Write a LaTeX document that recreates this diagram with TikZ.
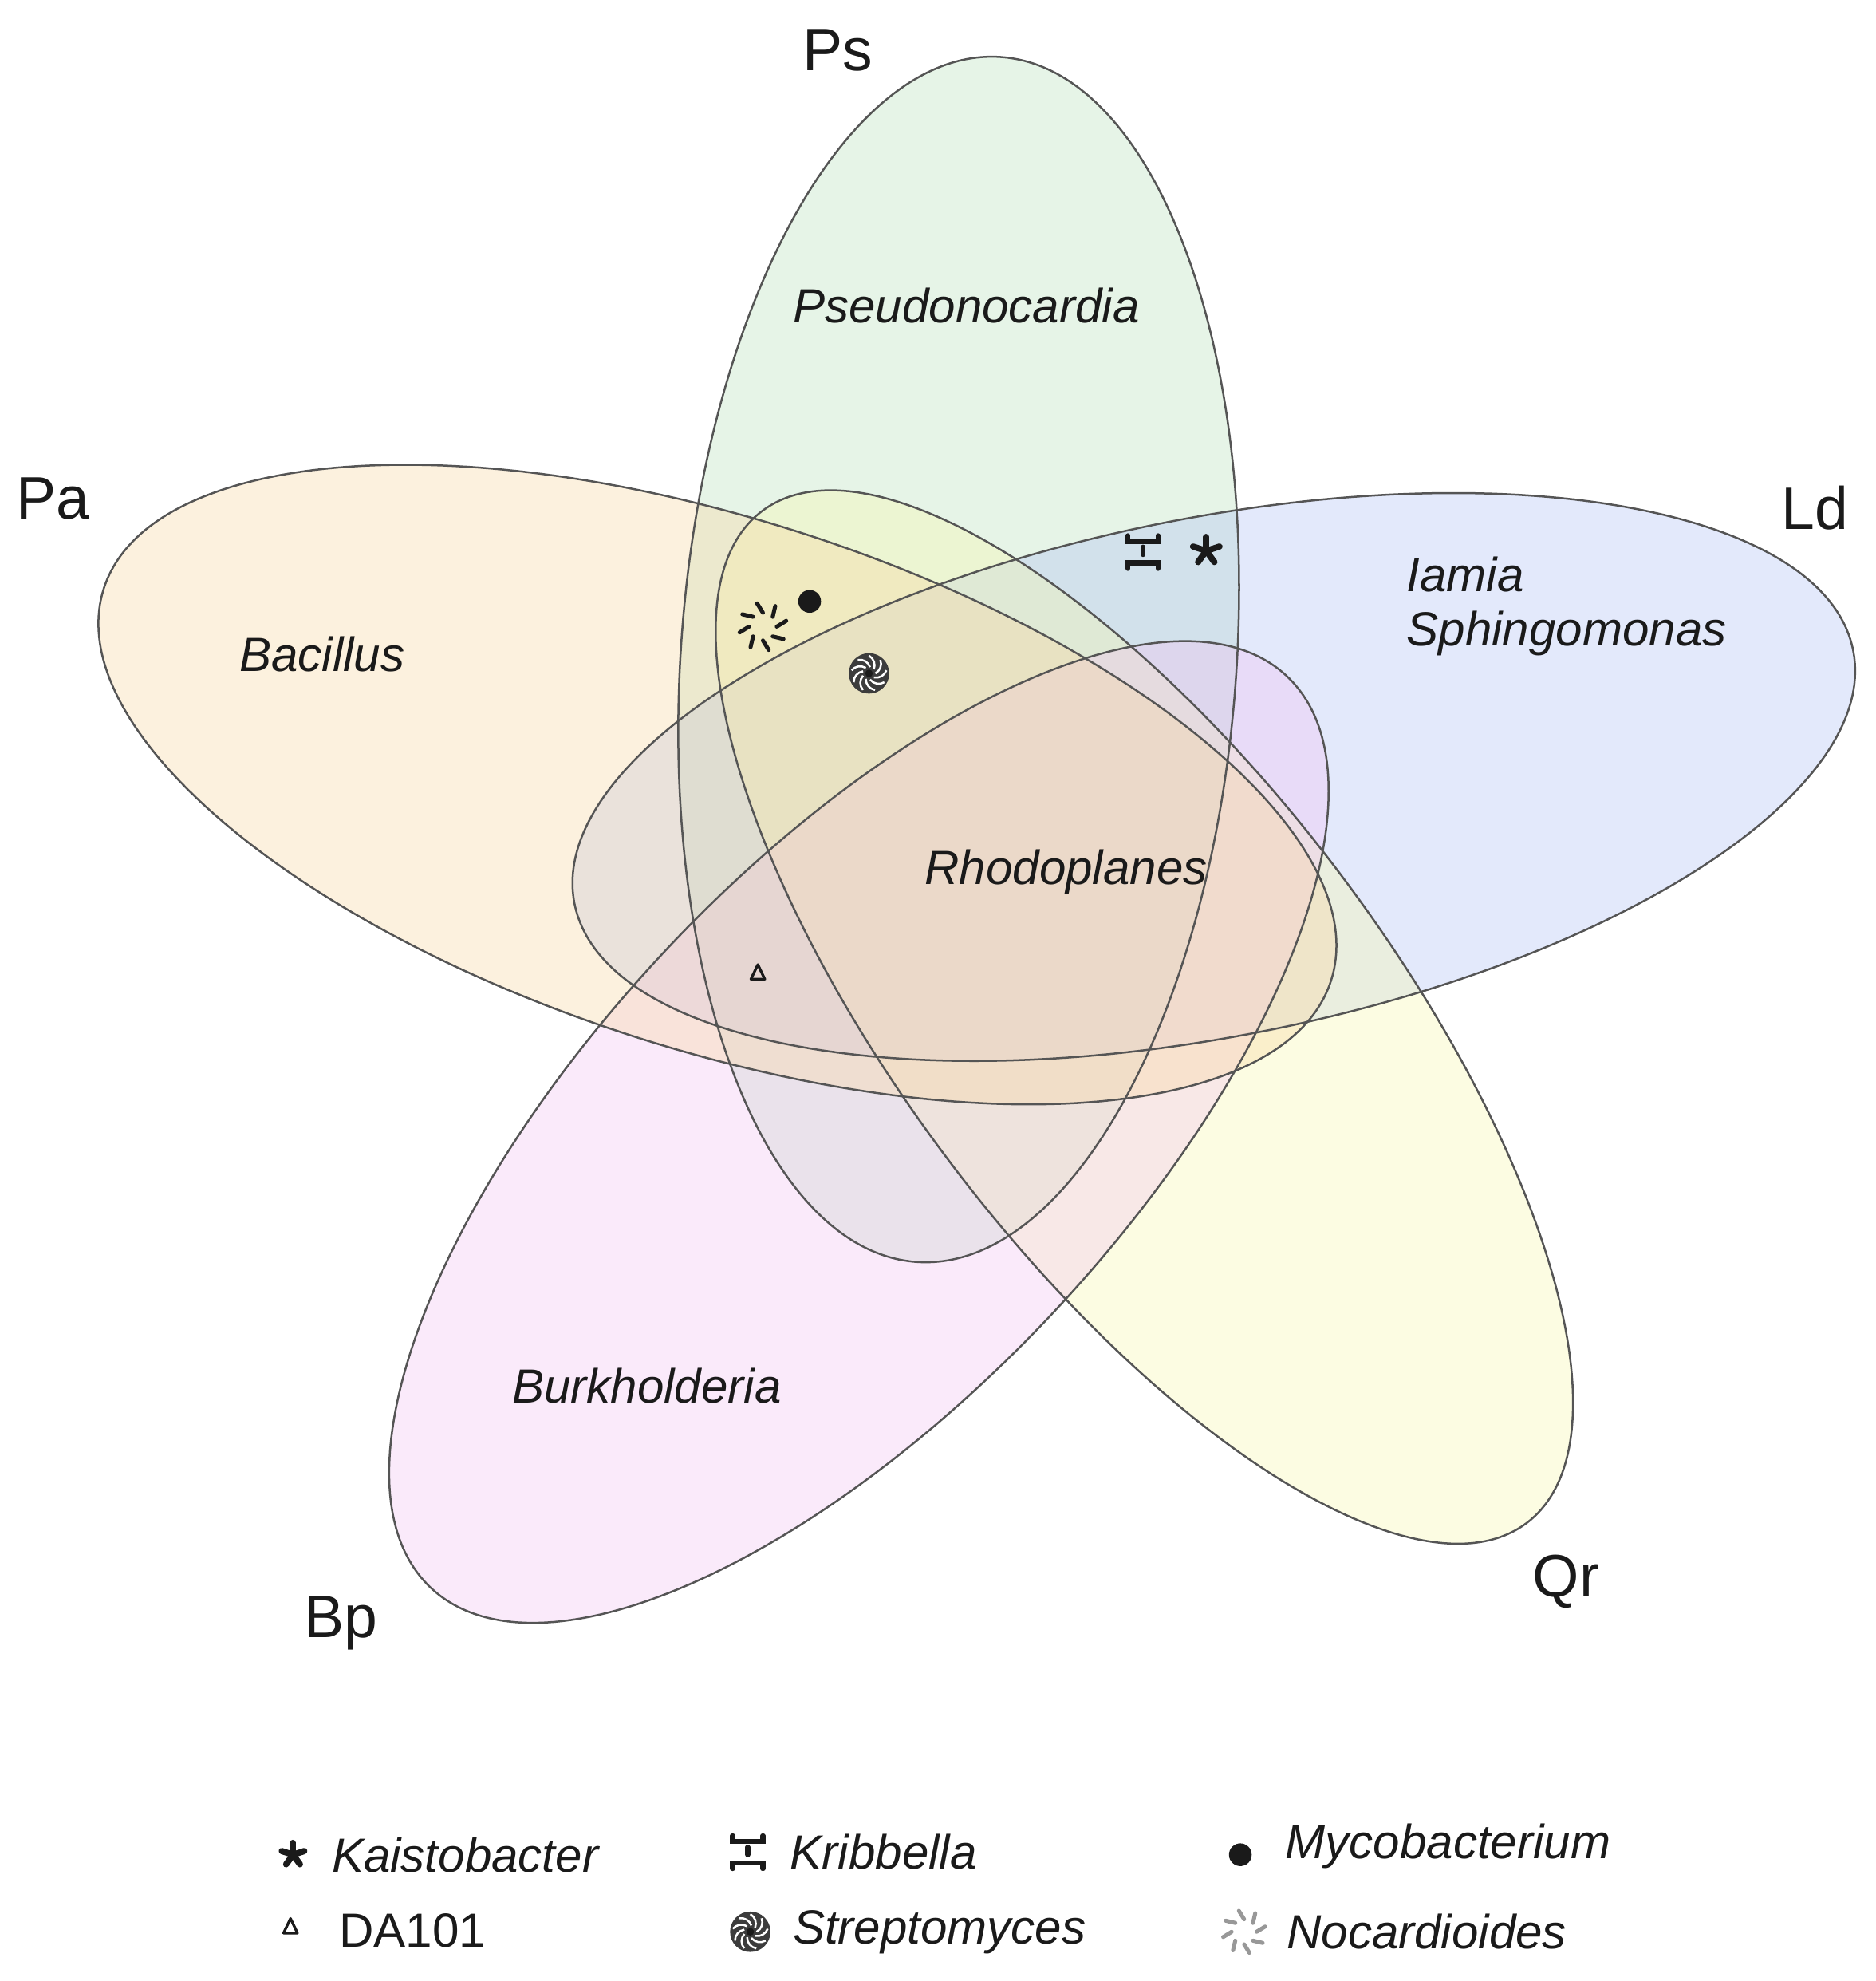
\documentclass[tikz,border=0pt]{standalone}
\usepackage{fontspec}
\setmainfont{Liberation Sans}
\usetikzlibrary{positioning}
\definecolor{cPs}{RGB}{186,226,189}
\definecolor{cPa}{RGB}{249,215,161}
\definecolor{cLd}{RGB}{175,192,244}
\definecolor{cQr}{RGB}{249,249,172}
\definecolor{cBp}{RGB}{243,195,243}
\definecolor{cLine}{HTML}{555555}
\definecolor{cInk}{HTML}{1A1A1A}
\tikzset{
  setlbl/.style={text=cInk, inner sep=0pt, font=\fontsize{13.5}{16}\selectfont},
  taxon/.style={text=cInk, inner sep=0pt, font=\fontsize{10.8}{12.2}\selectfont\itshape},
  legtxt/.style={taxon, anchor=west},
  setfill/.style={fill=#1, fill opacity=0.35},
  setline/.style={draw=cLine, line width=0.45pt},
}
\tikzset{
  kaisto/.pic={\foreach \t in {90,162,234,306,378} \draw[line width=1.4pt, cInk, line cap=round] (0,0) -- (\t:0.11);},
  kribb/.pic={
    \draw[line width=1.1pt, cInk, line cap=round] (-0.12,0.13) -- (-0.12,0.085) -- (0.12,0.085) -- (0.12,0.13);
    \draw[line width=1.1pt, cInk, line cap=round] (0,0.04) -- (0,-0.02);
    \draw[line width=1.1pt, cInk, line cap=round] (-0.12,-0.13) -- (-0.12,-0.085) -- (0.12,-0.085) -- (0.12,-0.13);},
  mycob/.pic={\fill[cInk] (0,0) circle (0.09);},
  strepto/.pic={
    \fill[cInk!85] (0,0) circle (0.16);
    \foreach \t in {0,40,...,320} \draw[white, line width=0.45pt] (\t:0.05) to[bend right=40] (\t+50:0.14);
    \fill[cInk] (0,0) circle (0.03);},
  nocard/.pic={\foreach \t in {0,45,...,315} \draw[line width=0.9pt, line cap=round] (\t:0.11) -- (\t+14:0.19);},
  da101/.pic={\draw[line width=0.6pt, cInk, line join=round] (-0.055,-0.05) -- (0.055,-0.05) -- (0,0.065) -- cycle;},
}
% name / x / y / angle / a / b / colour
\newcommand{\vennsets}{ps/7.59/-5.22/86/4.78/2.20/cPs, ld/9.61/-6.15/11.2/5.16/2.05/cLd, qr/9.06/-8.05/-52.9/5.02/1.92/cQr, bp/6.80/-8.96/46.8/4.95/2.10/cBp, pa/5.68/-6.21/-17.7/5.10/2.10/cPa}

\begin{document}
\begin{tikzpicture}
\fill[white] (0,0) rectangle (14.85,-15.68);
\useasboundingbox (0,0) rectangle (14.85,-15.68);
% the five sets
\foreach \n/\x/\y/\r/\a/\b/\c in \vennsets
  \fill[setfill=\c, rotate around={\r:(\x,\y)}] (\x,\y) ellipse [x radius=\a, y radius=\b];
\foreach \n/\x/\y/\r/\a/\b/\c in \vennsets
  \draw[setline, rotate around={\r:(\x,\y)}] (\x,\y) ellipse [x radius=\a, y radius=\b];
% set names
\node[setlbl] (lPs) at (6.63,-0.40) {Ps};
\node[setlbl] (lPa) at (0.42,-3.95) {Pa};
\node[setlbl] (lLd) at (14.37,-4.02) {Ld};
\node[setlbl] (lQr) at (12.40,-12.52) {Qr};
\node[setlbl] (lBp) at (2.70,-12.85) {Bp};
% genera
\node[taxon] (pseudo) at (7.65,-2.42) {Pseudonocardia};
\node[taxon] (bacil) at (2.55,-5.18) {Bacillus};
\node[taxon, align=left, anchor=west] (iamia) at (11.13,-4.80) {Iamia\\Sphingomonas};
\node[taxon] (rhodo) at (8.44,-6.90) {Rhodoplanes};
\node[taxon] (burk) at (5.12,-10.97) {Burkholderia};
\pic[color=cInk] at (6.04,-4.96) {nocard};
\pic at (6.41,-4.76) {mycob};
\pic at (6.88,-5.33) {strepto};
\pic at (9.05,-4.37) {kribb};
\pic at (9.55,-4.36) {kaisto};
\pic at (6.00,-7.70) {da101};
% legend
\node[legtxt] (kaist) at (2.62,-14.68) {Kaistobacter};
\node[legtxt] (kribl) at (6.25,-14.66) {Kribbella};
\node[legtxt] (mycol) at (10.17,-14.61) {Mycobacterium};
\node[legtxt, font=\fontsize{10.8}{12.2}\selectfont] (dal) at (2.68,-15.28) {DA101};
\node[legtxt] (strl) at (6.27,-15.29) {Streptomyces};
\node[legtxt] (nocl) at (10.18,-15.29) {Nocardioides};
\pic[scale=0.85] at ([xshift=-3mm]kaist.west) {kaisto};
\pic at ([xshift=-3.3mm]kribl.west) {kribb};
\pic at ([xshift=-3.5mm, yshift=-0.7mm]mycol.west) {mycob};
\pic at ([xshift=-3.8mm, yshift=0.3mm]dal.west) {da101};
\pic at ([xshift=-3.3mm]strl.west) {strepto};
\pic[scale=0.9, color=cInk!45] at ([xshift=-3.3mm]nocl.west) {nocard};
\end{tikzpicture}
\end{document}
